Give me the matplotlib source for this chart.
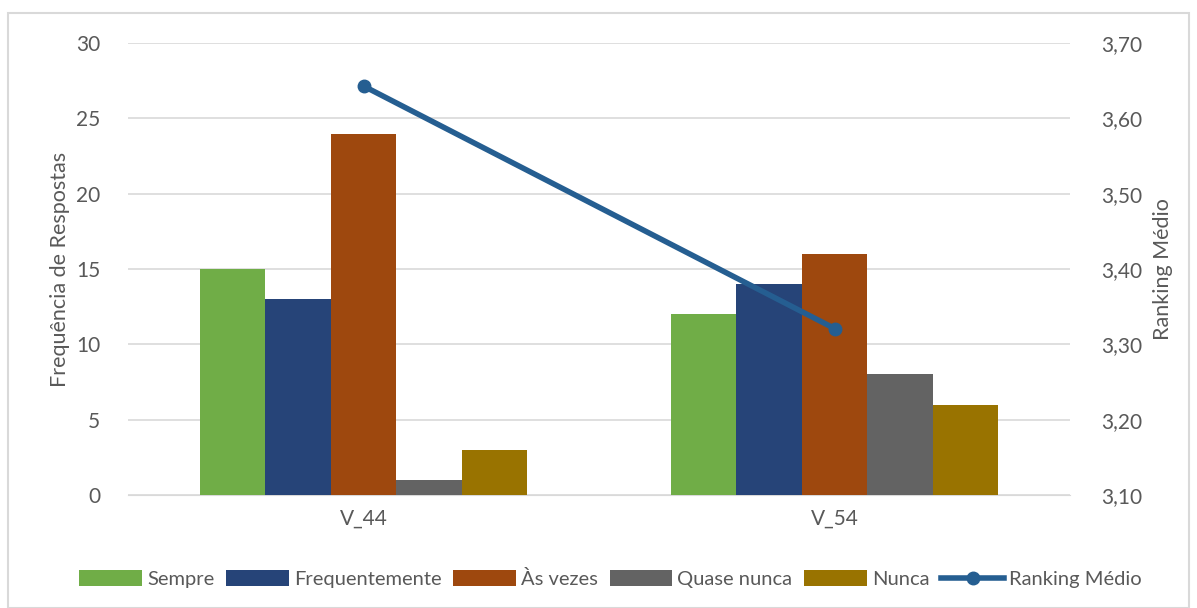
import numpy as np
import matplotlib.pyplot as plt
from matplotlib.patches import Rectangle

# data
categories = ['V_44', 'V_54']
series_names = ['Sempre', 'Frequentemente', 'Às vezes', 'Quase nunca', 'Nunca']
series_values = [
    [15, 12],
    [13, 14],
    [24, 16],
    [1, 8],
    [3, 6],
]
ranking = [3.643, 3.321]

colors = ['#70AD47', '#264478', '#9E480E', '#636363', '#997300']
line_color = '#255E91'
text_color = '#595959'
grid_color = '#D9D9D9'

plt.rcParams['font.family'] = ['Lato', 'DejaVu Sans']

fig = plt.figure(figsize=(11.97, 6.08), dpi=100)
ax = fig.add_axes([0.107, 0.186, 0.787, 0.743])
ax2 = ax.twinx()

x = np.arange(len(categories))
width = 0.139
offsets = (np.arange(len(series_names)) - 2) * width
handles = []
for vals, name, col, off in zip(series_values, series_names, colors, offsets):
    b = ax.bar(x + off, vals, width, color=col, label=name, zorder=3)
    handles.append(b)

ln, = ax2.plot(x, ranking, color=line_color, lw=4, marker='o', ms=9,
               label='Ranking Médio', zorder=4)
handles.append(ln)

ax.set_xlim(-0.5, 1.5)
ax.set_ylim(0, 30)
ax.set_yticks(range(0, 31, 5))
ax2.set_ylim(3.10, 3.70)
ax2.set_yticks(np.arange(3.10, 3.71, 0.10))
ax2.set_yticklabels([f'{v:.2f}'.replace('.', ',') for v in np.arange(3.10, 3.71, 0.10)])

ax.set_xticks(x)
ax.set_xticklabels(categories)
ax.yaxis.grid(True, color=grid_color, lw=1.2, zorder=0)
ax.set_axisbelow(True)

for a in (ax, ax2):
    for s in a.spines.values():
        s.set_visible(False)
    a.tick_params(length=0, labelsize=15, colors=text_color)
ax.spines['bottom'].set_visible(True)
ax.spines['bottom'].set_color(grid_color)
ax.tick_params(axis='y', pad=20)
ax.tick_params(axis='x', pad=10)
ax2.tick_params(axis='y', pad=22)

ax.set_ylabel('Frequência de Respostas', fontsize=15.5, color=text_color, labelpad=4)
ax2.set_ylabel('Ranking Médio', fontsize=15.5, color=text_color, labelpad=8)

fig.legend(handles=handles, labels=series_names + ['Ranking Médio'],
           loc='center', bbox_to_anchor=(0.51, 0.047), ncol=6, frameon=False,
           fontsize=14.5, labelcolor=text_color, handlelength=3.1, handleheight=0.85,
           handletextpad=0.25, columnspacing=0.6)

fig.patches.append(Rectangle((0.007, 0.0), 0.986, 0.978, transform=fig.transFigure,
                             fill=False, edgecolor='#D9D9D9', lw=1.5))

fig.savefig('out.png', dpi=100)
